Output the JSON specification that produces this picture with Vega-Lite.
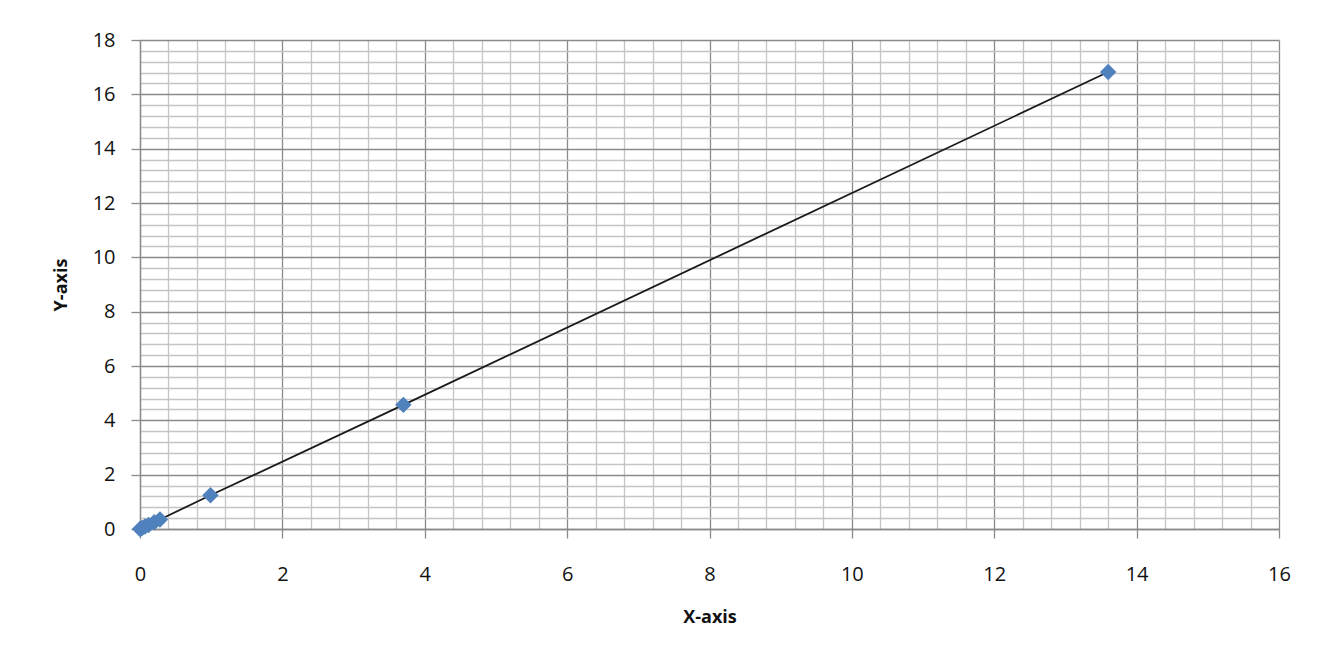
{
  "$schema": "https://vega.github.io/schema/vega-lite/v6.json",
  "autosize": "none",
  "width": 1139,
  "height": 489,
  "padding": {"left": 140, "top": 40, "right": 51, "bottom": 140},
  "background": "white",
  "config": {
    "view": {"stroke": null},
    "font": "Open Sans"
  },
  "data": {
    "values": [
      {"x": 0, "y": 0},
      {"x": 0.03, "y": 0.04},
      {"x": 0.07, "y": 0.09},
      {"x": 0.12, "y": 0.15},
      {"x": 0.2, "y": 0.25},
      {"x": 0.28, "y": 0.35},
      {"x": 0.99, "y": 1.24},
      {"x": 3.7, "y": 4.57},
      {"x": 13.6, "y": 16.82}
    ]
  },
  "encoding": {
    "x": {
      "field": "x", "type": "quantitative",
      "scale": {"domain": [0, 16], "nice": false, "zero": true},
      "axis": {
        "title": "X-axis",
        "titleFont": "Open Sans", "titleFontSize": 18, "titleFontWeight": "bold", "titleColor": "#111",
        "titlePadding": 24,
        "values": [0,0.4,0.8,1.2,1.6,2,2.4,2.8,3.2,3.6,4,4.4,4.8,5.2,5.6,6,6.4,6.8,7.2,7.6,8,8.4,8.8,9.2,9.6,10,10.4,10.8,11.2,11.6,12,12.4,12.8,13.2,13.6,14,14.4,14.8,15.2,15.6,16],
        "labelExpr": "abs(datum.value/2 - round(datum.value/2)) < 0.001 ? format(datum.value, 'd') : ''",
        "grid": true,
        "gridColor": {"condition": {"test": "abs(datum.value/2 - round(datum.value/2)) < 0.001", "value": "#8a8a8a"}, "value": "#c4c4c4"},
        "gridWidth": 1.3,
        "tickColor": "#8a8a8a",
        "tickOpacity": {"condition": {"test": "abs(datum.value/2 - round(datum.value/2)) < 0.001", "value": 1}, "value": 0},
        "tickSize": 9,
        "tickWidth": 1.3,
        "domainColor": "#8a8a8a",
        "domainWidth": 1.3,
        "labelFont": "Open Sans", "labelFontSize": 20, "labelColor": "#111",
        "labelPadding": 26,
        "labelFlush": false,
        "labelOverlap": false
      }
    },
    "y": {
      "field": "y", "type": "quantitative",
      "scale": {"domain": [0, 18], "nice": false, "zero": true},
      "axis": {
        "title": "Y-axis",
        "titleFont": "Open Sans", "titleFontSize": 18, "titleFontWeight": "bold", "titleColor": "#111",
        "titlePadding": 22,
        "values": [0,0.4,0.8,1.2,1.6,2,2.4,2.8,3.2,3.6,4,4.4,4.8,5.2,5.6,6,6.4,6.8,7.2,7.6,8,8.4,8.8,9.2,9.6,10,10.4,10.8,11.2,11.6,12,12.4,12.8,13.2,13.6,14,14.4,14.8,15.2,15.6,16,16.4,16.8,17.2,17.6,18],
        "labelExpr": "abs(datum.value/2 - round(datum.value/2)) < 0.001 ? format(datum.value, 'd') : ''",
        "grid": true,
        "gridColor": {"condition": {"test": "abs(datum.value/2 - round(datum.value/2)) < 0.001", "value": "#8a8a8a"}, "value": "#c4c4c4"},
        "gridWidth": 1.3,
        "tickColor": "#8a8a8a",
        "tickOpacity": {"condition": {"test": "abs(datum.value/2 - round(datum.value/2)) < 0.001", "value": 1}, "value": 0},
        "tickSize": 9,
        "tickWidth": 1.3,
        "domainColor": "#8a8a8a",
        "domainWidth": 1.3,
        "labelFont": "Open Sans", "labelFontSize": 20, "labelColor": "#111",
        "labelPadding": 16,
        "labelFlush": false,
        "labelOverlap": false
      }
    }
  },
  "layer": [
    {
      "mark": {"type": "line", "color": "#1a1a1a", "strokeWidth": 1.8, "clip": false},
      "encoding": {"order": {"field": "x", "type": "quantitative"}}
    },
    {
      "mark": {"type": "point", "shape": "diamond", "filled": true, "color": "#4F81BD", "opacity": 1, "size": 270, "clip": false}
    }
  ]
}
